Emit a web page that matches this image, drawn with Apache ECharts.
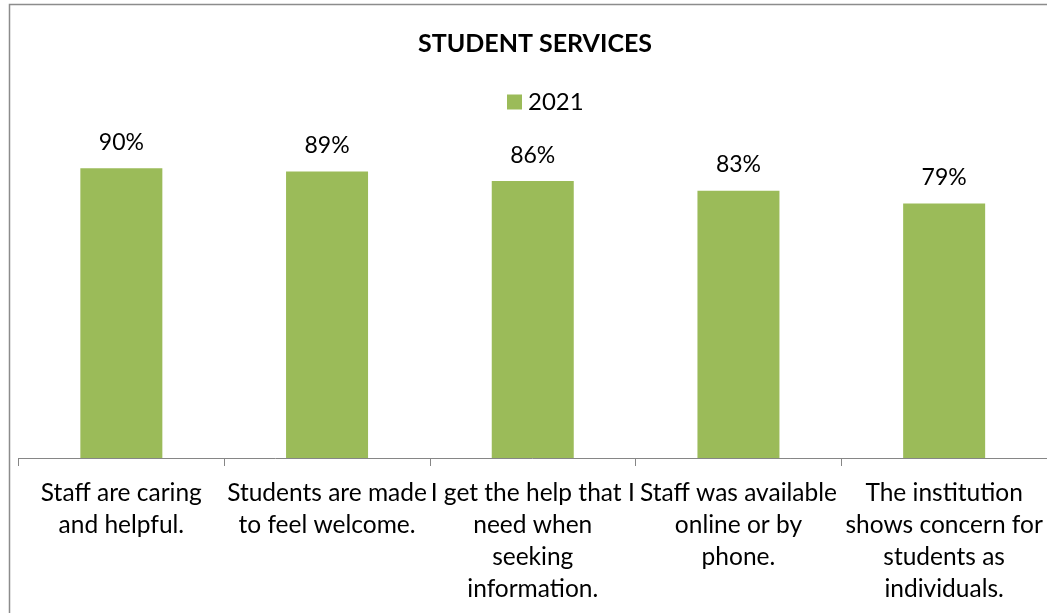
<!DOCTYPE html>
<html>
<head>
<meta charset="utf-8">
<script src="https://cdn.jsdelivr.net/npm/echarts@6/dist/echarts.min.js"></script>
<style>
html,body{margin:0;padding:0;background:#fff;}
#c{width:1047px;height:613px;}
</style>
</head>
<body>
<div id="c"></div>
<script>
const titleText = "STUDENT SERVICES";
const seriesName = "2021";
const categories = [
  "Staff are caring\nand helpful.",
  "Students are made\nto feel welcome.",
  "I get the help that I\nneed when\nseeking\ninformation.",
  "Staff was available\nonline or by\nphone.",
  "The institution\nshows concern for\nstudents as\nindividuals."
];
const values = [90, 89, 86, 83, 79];

const FONT = "Lato";
const chart = echarts.init(document.getElementById('c'));
chart.setOption({
  backgroundColor: '#fff',
  animation: false,
  textStyle: {fontFamily: FONT},
  title: {
    text: titleText, left: 535, top: 31, textAlign: 'center', padding: 0,
    textStyle: {fontFamily: FONT, fontWeight: 'bold', fontSize: 25, color: '#000'}
  },
  legend: {
    data: [seriesName], left: 507, top: 90, itemWidth: 15, itemHeight: 15, itemGap: 6,
    icon: 'rect', padding: 0,
    textStyle: {fontFamily: FONT, fontSize: 24, color: '#000', padding: [0,0,0,1]}
  },
  graphic: [{
    type: 'rect', shape: {x: 9.5, y: 4.5, width: 1200, height: 800},
    style: {fill: 'none', stroke: '#8c8c8c', lineWidth: 1.5}, silent: true, z: -1
  }],
  grid: {left: 18.5, top: 136, width: 1032.5, height: 322, containLabel: false},
  xAxis: {
    type: 'category', data: categories,
    axisLine: {lineStyle: {color: '#868686', width: 1}},
    axisTick: {show: true, length: 8, lineStyle: {color: '#868686'}},
    axisLabel: {interval: 0, margin: 19, fontFamily: FONT, fontSize: 24.5, lineHeight: 32, color: '#000', align: 'center'}
  },
  yAxis: {
    type: 'value', min: 0, max: 100, show: false, splitLine: {show: false}
  },
  series: [{
    name: seriesName, type: 'bar', data: values, barWidth: 82,
    itemStyle: {color: '#9BBB59'},
    label: {show: true, position: 'top', distance: 14.5, formatter: '{c}%',
      fontFamily: FONT, fontSize: 23, color: '#000'}
  }]
});
</script>
</body>
</html>
